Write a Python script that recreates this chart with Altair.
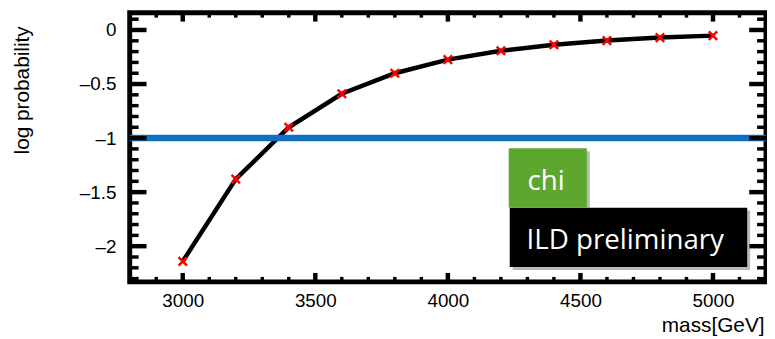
import altair as alt
import pandas as pd

# ---- data ----
mass = [3000, 3200, 3400, 3600, 3800, 4000, 4200, 4400, 4600, 4800, 5000]
logp = [-2.14, -1.38, -0.90, -0.59, -0.40, -0.274, -0.192, -0.137, -0.098, -0.070, -0.052]
threshold = [-1.0]
x_major = [3000, 3500, 4000, 4500, 5000]
x_minor = [v for v in range(2900, 5200, 100) if v not in x_major]
y_major = [0, -0.5, -1, -1.5, -2]
y_minor = [round(v / 10, 1) for v in range(1, -24, -1) if round(v / 10, 1) not in y_major]
annot_labels = ["chi", "ILD preliminary"]

W, H = 643, 272
xs = alt.Scale(domain=[2800, 5200], nice=False, zero=False)
ys = alt.Scale(domain=[-2.33, 0.16], nice=False, zero=False)
FONT = "Liberation Sans"

df = pd.DataFrame({"mass": mass, "logp": logp})

line = alt.Chart(df).mark_line(color="black", strokeWidth=4.5).encode(
    x=alt.X("mass:Q", scale=xs, axis=alt.Axis(
        values=x_major, format="d", ticks=False, domain=False, grid=False,
        labelFont=FONT, labelFontSize=19, labelColor="black", labelPadding=10,
        title="mass[GeV]", titleFont=FONT, titleFontSize=21, titleFontWeight="normal",
        titleColor="black", titleX=641, titleY=50, titleAlign="right",
        titleBaseline="alphabetic")),
    y=alt.Y("logp:Q", scale=ys, axis=alt.Axis(
        values=y_major, ticks=False, domain=False, grid=False,
        labelExpr="datum.value < 0 ? '\u2013' + format(-datum.value, '~g') : format(datum.value, '~g')",
        labelFont=FONT, labelFontSize=19, labelColor="black", labelPadding=14,
        title="log probability", titleFont=FONT, titleFontSize=21,
        titleFontWeight="normal", titleColor="black", titleX=-108, titleY=78,
        titleAlign="center", titleBaseline="middle", titleAngle=270)),
)

thr = alt.Chart(pd.DataFrame({"t": threshold})).mark_rule(
    color="#1170c4", strokeWidth=6.5).encode(y=alt.Y("t:Q", scale=ys))

pts = alt.Chart(df).mark_point(
    shape="M-1,-1L1,1M-1,1L1,-1", filled=False, stroke="#ff0000",
    strokeWidth=2.5, size=72, opacity=1).encode(
    x=alt.X("mass:Q", scale=xs), y=alt.Y("logp:Q", scale=ys))


def xticks(vals, y0, y1, w):
    return alt.Chart(pd.DataFrame({"v": vals})).mark_rule(
        color="black", strokeWidth=w).encode(
        x=alt.X("v:Q", scale=xs), y=alt.value(y0), y2=alt.value(y1))


def yticks(vals, x0, x1, w):
    return alt.Chart(pd.DataFrame({"v": vals})).mark_rule(
        color="black", strokeWidth=w).encode(
        y=alt.Y("v:Q", scale=ys), x=alt.value(x0), x2=alt.value(x1))


ticks = [
    xticks(x_major, 0, 9, 4.5), xticks(x_minor, 0, 5, 3.5),
    xticks(x_major, H, H - 9, 4.5), xticks(x_minor, H, H - 5, 3.5),
    yticks(y_major, 0, 17, 4.5), yticks(y_minor, 0, 9, 3.5),
    yticks(y_major, W, W - 17, 4.5), yticks(y_minor, W, W - 9, 3.5),
]

one = pd.DataFrame({"t": [annot_labels[0]]})
two = pd.DataFrame({"t": [annot_labels[1]]})

shadow_black = alt.Chart(two).mark_rect(color="#666", opacity=0.45).encode(
    x=alt.value(387), x2=alt.value(627), y=alt.value(200), y2=alt.value(260))
box_black = alt.Chart(two).mark_rect(color="black").encode(
    x=alt.value(384), x2=alt.value(624), y=alt.value(197), y2=alt.value(257))
shadow_green = alt.Chart(one).mark_rect(color="#666", opacity=0.45).encode(
    x=alt.value(386), x2=alt.value(465), y=alt.value(140), y2=alt.value(197))
box_green = alt.Chart(one).mark_rect(color="#5ea72e").encode(
    x=alt.value(383), x2=alt.value(462), y=alt.value(137), y2=alt.value(197))
txt_green = alt.Chart(one).mark_text(
    font="Open Sans", fontSize=28, color="white", align="left",
    baseline="alphabetic").encode(x=alt.value(402), y=alt.value(179), text="t:N")
txt_black = alt.Chart(two).mark_text(
    font="Open Sans", fontSize=28, color="white", align="left",
    baseline="alphabetic").encode(x=alt.value(401), y=alt.value(239), text="t:N")

chart = alt.layer(
    line, thr, pts, *ticks,
    shadow_black, box_black, shadow_green, box_green, txt_green, txt_black,
).properties(
    width=W, height=H,
    autosize=alt.AutoSizeParams(type="none"),
    padding={"left": 123, "top": 3, "right": 1, "bottom": 56},
).configure(background="white").configure_view(stroke="black", strokeWidth=5)

chart.save("out.html", embed_options={"renderer": "svg", "actions": False})
